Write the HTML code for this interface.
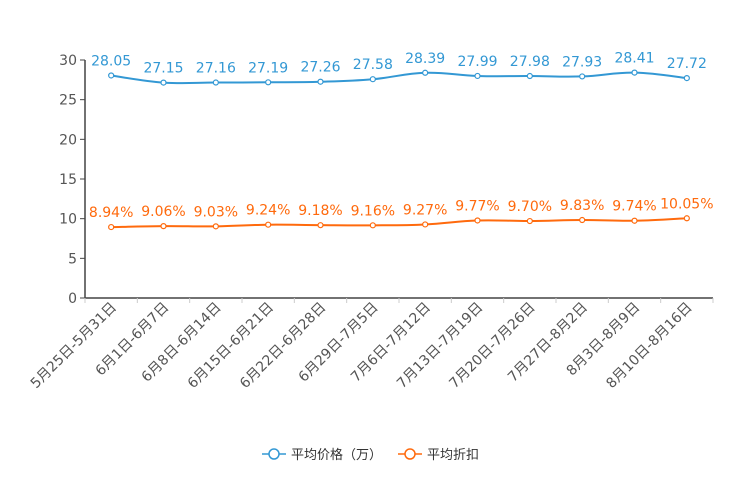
<!DOCTYPE html>
<html><head><meta charset="utf-8"><style>
body{margin:0;background:#fff;}
svg{display:block;font-family:"DejaVu Sans","Liberation Sans","Noto Sans CJK SC",sans-serif;}
</style></head><body>
<svg id="chart" width="744" height="496"></svg>
<script>
const categories=["5月25日-5月31日","6月1日-6月7日","6月8日-6月14日","6月15日-6月21日","6月22日-6月28日","6月29日-7月5日","7月6日-7月12日","7月13日-7月19日","7月20日-7月26日","7月27日-8月2日","8月3日-8月9日","8月10日-8月16日"];
const avgPrice=[28.05,27.15,27.16,27.19,27.26,27.58,28.39,27.99,27.98,27.93,28.41,27.72];
const avgDiscount=[8.94,9.06,9.03,9.24,9.18,9.16,9.27,9.77,9.70,9.83,9.74,10.05];
const yTicks=[0,5,10,15,20,25,30];
const seriesNames=["平均价格（万）","平均折扣"];
const svg=document.getElementById('chart');
const NS="http://www.w3.org/2000/svg";
const L=85,R=713,T=60,B=298,yMax=30;
const band=(R-L)/categories.length;
const x=i=>L+band*(i+0.5);
const y=v=>B-(v/yMax)*(B-T);
function mk(tag,attrs,parent){const e=document.createElementNS(NS,tag);for(const k in attrs)e.setAttribute(k,attrs[k]);(parent||svg).appendChild(e);return e;}
const yAxis=mk('g',{});


mk('line',{x1:L,y1:T,x2:L,y2:B,stroke:'#444','stroke-width':1.5},yAxis);
yTicks.forEach(t=>{
 mk('line',{x1:L-5,y1:y(t),x2:L,y2:y(t),stroke:'#444'},yAxis);
 const tx=mk('text',{x:L-8,y:y(t)+5,'text-anchor':'end','font-size':14,fill:'#555'},yAxis);
 tx.textContent=t;
 
 
});
const xAxis=mk('g',{});


mk('line',{x1:L,y1:B,x2:R,y2:B,stroke:'#444','stroke-width':1.5},xAxis);
for(let i=0;i<=categories.length;i++){mk('line',{x1:L+band*i,y1:B,x2:L+band*i,y2:B+5,stroke:'#ccc'},xAxis);}
categories.forEach((c,i)=>{
 const tx=mk('text',{x:0,y:0,'text-anchor':'end','font-size':14,fill:'#555',transform:`translate(${x(i)+6},${B+10}) rotate(-45)`},xAxis);
 tx.textContent=c;
 
 
});
function smooth(pts){
 let d=`M${pts[0][0]},${pts[0][1]}`;
 for(let i=0;i<pts.length-1;i++){
  const p0=pts[i-1]||pts[i],p1=pts[i],p2=pts[i+1],p3=pts[i+2]||p2;
  const s=0.2;
  d+=` C${p1[0]+(p2[0]-p0[0])*s},${p1[1]+(p2[1]-p0[1])*s} ${p2[0]-(p3[0]-p1[0])*s},${p2[1]-(p3[1]-p1[1])*s} ${p2[0]},${p2[1]}`;
 }
 return d;
}
function series(vals,color,suffix,name){
 const g=mk('g',{});
 
 
 const pts=vals.map((v,i)=>[x(i),y(v)]);
 mk('path',{d:smooth(pts),fill:'none',stroke:color,'stroke-width':2},g);
 vals.forEach((v,i)=>{
  const c=mk('circle',{cx:x(i),cy:y(v),r:2.5,fill:'#fff',stroke:color,'stroke-width':1.2},g);
  
  
  const t=mk('text',{x:x(i),y:y(v)-10,'text-anchor':'middle','font-size':14,fill:color},g);
  t.textContent=v.toFixed(2)+suffix;
  
  
 });
}
series(avgPrice,'#3398d4','','series-avg-price');
series(avgDiscount,'#ff6a0d','%','series-avg-discount');
const lg=mk('g',{});


const legendColors=['#3398d4','#ff6a0d'];
const legendX=[262,398];
seriesNames.forEach((n,i)=>{
 const e=mk('g',{},lg);
 
 
 mk('line',{x1:legendX[i],y1:454,x2:legendX[i]+24,y2:454,stroke:legendColors[i],'stroke-width':1.5},e);
 mk('circle',{cx:legendX[i]+12,cy:454,r:5,fill:'#fff',stroke:legendColors[i],'stroke-width':1.5},e);
 const t=mk('text',{x:legendX[i]+29,y:459,'font-size':13,fill:'#333'},e);
 t.textContent=n;
});
</script>
</body></html>
